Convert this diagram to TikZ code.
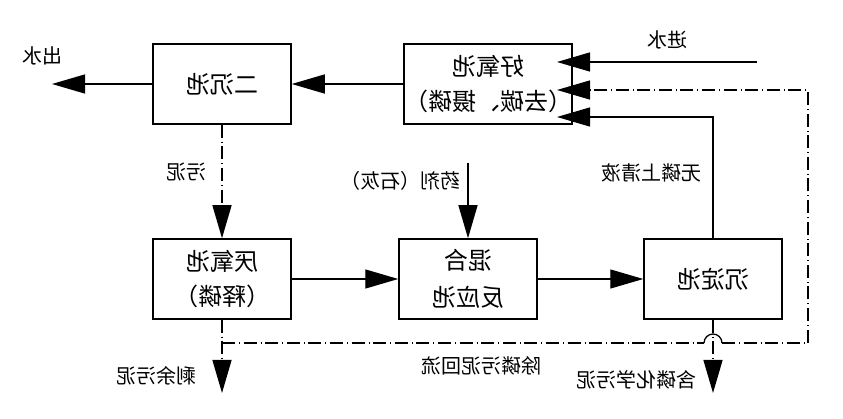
\documentclass[tikz,border=0pt]{standalone}
\usepackage{fontspec}
\newfontfamily\cjk{Noto Sans CJK SC}
\usetikzlibrary{arrows.meta}
\tikzset{
  box/.style={draw, line width=1.5pt, minimum width=138pt, minimum height=80pt, inner sep=0pt, font=\cjk\fontsize{24}{31}\selectfont, align=center},
  lbl/.style={inner sep=0pt, font=\cjk\fontsize{20}{24}\selectfont},
  conn/.style={line width=1.3pt, -{Triangle[length=33pt,width=19pt]}},
  plain/.style={line width=1.3pt},
  dd/.style={line width=1.4pt, dash pattern=on 13pt off 4pt on 0.6pt off 4pt},
}
\newcommand{\mir}[1]{\reflectbox{#1}}
\begin{document}
\begin{tikzpicture}[x=1pt,y=-1pt]
\useasboundingbox (0,0) rectangle (843,419);
% boxes
\node[box] (er) at (222,84) {\mir{二沉池}};
\node[box] (hao) at (488,84) {\mir{好氧池}\\[4pt]\mir{（去碳、摄磷）}};
\node[box] (yan) at (222,279) {\mir{厌氧池}\\[4pt]\mir{（释磷）}};
\node[box] (hun) at (468,279) {\mir{混合}\\[6pt]\mir{反应池}};
\node[box] (chen) at (713,279) {\mir{沉淀池}};
% coordinates
\coordinate (out) at (52,84);
\coordinate (inS) at (757,62);
\coordinate (hIn) at (557,62);
\coordinate (hDash) at (557,90);
\coordinate (hDashS) at (590,90);
\coordinate (hSol) at (557,117);
\coordinate (solC) at (713,117);
\coordinate (dTR) at (808,90);
\coordinate (dBR) at (808,343);
\coordinate (dBL) at (222,343);
\coordinate (hopL) at (704,343);
\coordinate (wnM) at (222,205);
\coordinate (yM) at (222,360);
\coordinate (cM) at (713,360);
\coordinate (yEnd) at (222,393);
\coordinate (cEnd) at (713,393);
\coordinate (yaoS) at (468,163);
% labels
\node[lbl] (lout) at (43,56) {\mir{出水}};
\node[lbl] (lin) at (667,40) {\mir{进水}};
\node[lbl] (lwn) at (186,172) {\mir{污泥}};
\node[lbl] (lyao) at (400,181) {\mir{药剂（石灰）}};
\node[lbl] (lwu) at (651,173) {\mir{无磷上清液}};
\node[lbl] (lsy) at (156,376) {\mir{剩余污泥}};
\node[lbl] (lhl) at (481,366) {\mir{除磷污泥回流}};
\node[lbl] (lhc) at (636,380) {\mir{含磷化学污泥}};
% connectors
\draw[conn] (hao.west|-er.east) -- (er.east);
\draw[conn] (er.west) -- (out);
\draw[conn] (inS) -- (hIn);
\draw[conn] (chen.north) -- (solC) -- (hSol);
\draw[dd] (er.south) -- (wnM);
\draw[conn] (wnM) -- (yan.north);
\draw[conn] (yan.east) -- (hun.west);
\draw[conn] (hun.east) -- (chen.west);
\draw[conn] (yaoS) -- (hun.north);
\draw[dd] (dBL) -- (hopL);
\draw[plain] (hopL) arc[start angle=180,end angle=360,radius=9];
\draw[dd] (722,343) -- (dBR) -- (dTR) -- (hDashS);
\draw[conn] (hDashS) -- (hDash);
\draw[dd] (yan.south) -- (yM);
\draw[conn] (yM) -- (yEnd);
\draw[dd] (chen.south) -- (cM);
\draw[conn] (cM) -- (cEnd);
\end{tikzpicture}
\end{document}
